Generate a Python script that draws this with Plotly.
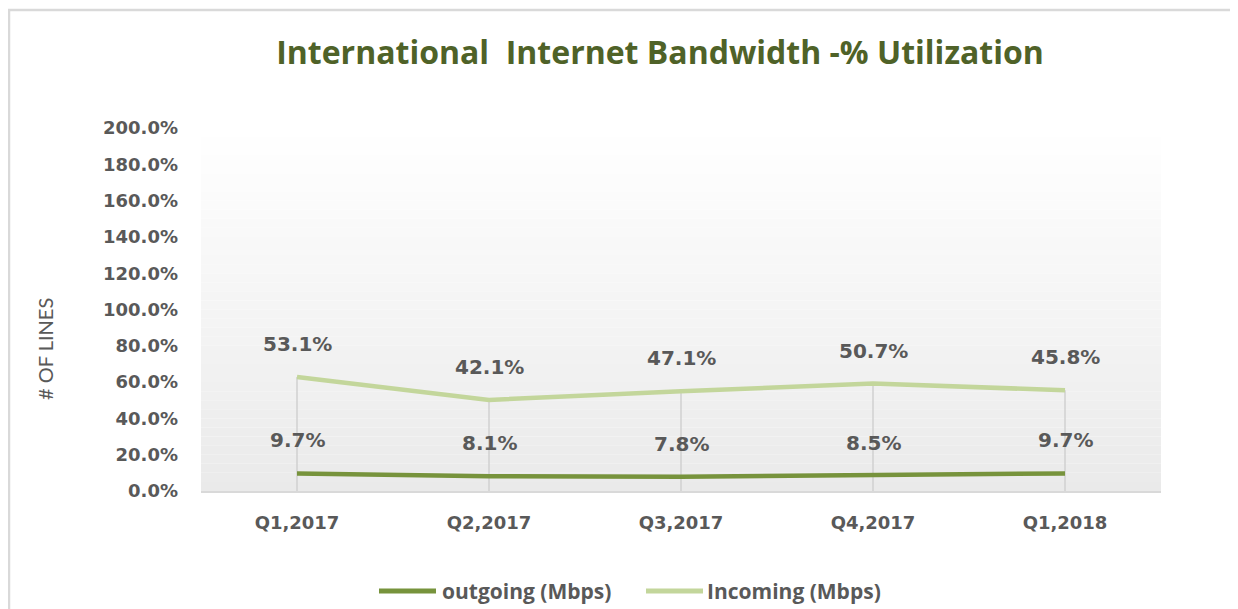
import plotly.graph_objects as go

categories = ["Q1,2017", "Q2,2017", "Q3,2017", "Q4,2017", "Q1,2018"]
outgoing = [9.7, 8.1, 7.8, 8.5, 9.7]
incoming = [53.1, 42.1, 47.1, 50.7, 45.8]
y_ticks = [0, 20, 40, 60, 80, 100, 120, 140, 160, 180, 200]
series_names = ["outgoing (Mbps)", "Incoming (Mbps)"]

C_OUT = "#77933C"
C_IN = "#C3D69B"
GRAY = "#595959"
NUM_FONT = "DejaVu Sans"

W, H = 1230, 601  # page body has an 8px margin
ML, MR, MT, MB = 193, 77, 120, 118
PW, PH = W - ML - MR, H - MT - MB


def px(fx):
    return (fx - ML) / PW


def py(fy):
    return (MT + PH - fy) / PH


stacked_in = [o + i for o, i in zip(outgoing, incoming)]

fig = go.Figure()

# drop lines
dx, dy = [], []
for c, top in zip(categories, stacked_in):
    dx += [c, c, None]
    dy += [0, top, None]
fig.add_trace(go.Scatter(x=dx, y=dy, mode="lines", line=dict(color="#D0D0D0", width=1.5),
                         showlegend=False, hoverinfo="skip"))

fig.add_trace(go.Scatter(x=categories, y=outgoing, name=series_names[0], mode="lines",
                         stackgroup="one", fill="none", line=dict(color=C_OUT, width=4.5),
                         showlegend=False))
fig.add_trace(go.Scatter(x=categories, y=incoming, name=series_names[1], mode="lines",
                         stackgroup="one", fill="none", line=dict(color=C_IN, width=4.5),
                         showlegend=False))

# data labels
for c, v in zip(categories, outgoing):
    fig.add_annotation(x=c, y=v, text=f"{v:.1f}%", showarrow=False, yshift=33,
                       font=dict(family=NUM_FONT, size=20, color=GRAY, weight="bold"))
for c, v, top in zip(categories, incoming, stacked_in):
    fig.add_annotation(x=c, y=top, text=f"{v:.1f}%", showarrow=False, yshift=33,
                       font=dict(family=NUM_FONT, size=20, color=GRAY, weight="bold"))

# gradient background of plot area
n = 40
for k in range(n):
    t = k / n
    g = int(round(255 - (255 - 234) * (1 - t - 0.5 / n)))
    fig.add_shape(type="rect", xref="x domain", yref="y domain", x0=0, x1=1,
                  y0=t, y1=(k + 1) / n, line=dict(width=0),
                  fillcolor=f"rgb({g},{g},{g})", layer="below")

# outer border
fig.add_shape(type="rect", xref="paper", yref="paper",
              x0=px(1), x1=px(W - 2), y0=py(H + 20), y1=py(2),
              line=dict(color="#D9D9D9", width=2.5), layer="below")

# custom legend
leg_y = 583
for (x0, x1, tx), name, col in zip([(371, 428, 432), (638, 695, 697)], series_names, [C_OUT, C_IN]):
    fig.add_shape(type="line", xref="paper", yref="paper", x0=px(x0), x1=px(x1),
                  y0=py(leg_y), y1=py(leg_y), line=dict(color=col, width=5))
    fig.add_annotation(xref="paper", yref="paper", x=px(tx), y=py(leg_y), text=name,
                       showarrow=False, xanchor="left", yanchor="middle",
                       font=dict(family="Open Sans", size=21, color=GRAY, weight="bold"))

# y-axis title
fig.add_annotation(xref="paper", yref="paper", x=px(37), y=py(341), text="# OF LINES",
                   textangle=-90, showarrow=False, xanchor="center", yanchor="middle",
                   font=dict(family="Lato", size=20, color=GRAY))

fig.update_layout(
    width=W, height=H,
    margin=dict(l=ML, r=MR, t=MT, b=MB),
    paper_bgcolor="white", plot_bgcolor="rgba(0,0,0,0)",
    title=dict(text="International  Internet Bandwidth -% Utilization",
               x=652 / W, xanchor="center", y=1 - 45 / H, yanchor="middle",
               font=dict(family="Open Sans", size=32, color="#4F6228", weight="bold")),
    showlegend=False,
)
fig.update_xaxes(type="category", range=[-0.5, 4.5], showgrid=False, zeroline=False,
                 showline=True, linecolor="#D9D9D9", linewidth=2, ticks="",
                 tickfont=dict(family=NUM_FONT, size=18, color=GRAY, weight="bold"),
                 ticklabelstandoff=14)
fig.update_yaxes(range=[0, 200], tickvals=y_ticks, ticktext=[f"{v:.1f}%" for v in y_ticks],
                 showgrid=False, zeroline=False, showline=False,
                 tickfont=dict(family=NUM_FONT, size=18, color=GRAY, weight="bold"),
                 ticklabelstandoff=22)

fig.write_html("out.html")
